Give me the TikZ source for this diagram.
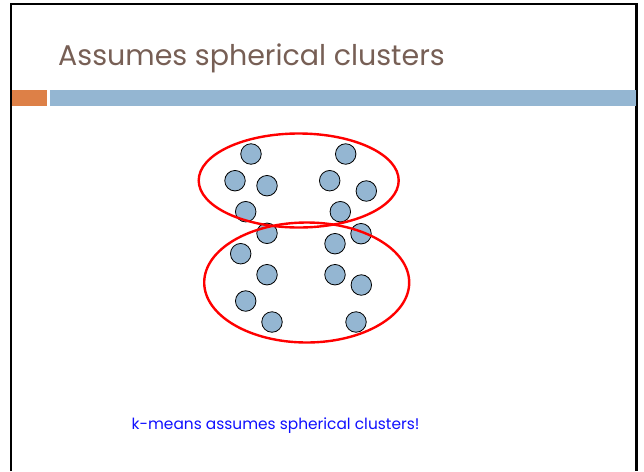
\documentclass[tikz,border=0pt]{standalone}
\usepackage{fontspec}
\setmainfont{Poppins}
\usepackage{tikz}
\usetikzlibrary{positioning}
\usepackage{xcolor}
\definecolor{titlebrown}{HTML}{775F55}
\definecolor{dotblue}{HTML}{94B6D2}
\definecolor{barorange}{HTML}{DD8047}
\definecolor{notblue}{HTML}{1010FF}

\begin{document}
\begin{tikzpicture}[
  x=1pt, y=-1pt,
  dot/.style={circle, draw=black, line width=0.8pt, fill=dotblue, minimum size=20.5pt, inner sep=0pt},
  cluster/.style={draw=red, line width=2.4pt},
  frame/.style={draw=black, line width=2.2pt}
]
\useasboundingbox[fill=white] (0,0) rectangle (644,471);

% slide frame, open at the bottom
\draw[frame] (11,471) -- (11,4) -- (636.5,4) -- (636.5,471);

% title and the bars under it
\node[anchor=base west, inner sep=0pt, font=\fontsize{28.5}{34}\selectfont, text=titlebrown] (title) at (58,65) {Assumes spherical clusters};
\fill[barorange] (12.3,90) rectangle (47,105.5);
\fill[dotblue] (50,90) rectangle (635.5,105.5);

% data points
\node[dot] (p1) at (251,154) {};
\node[dot] (p2) at (345.7,154) {};
\node[dot] (p3) at (235,180.7) {};
\node[dot] (p4) at (267,185.7) {};
\node[dot] (p5) at (329.7,180.7) {};
\node[dot] (p6) at (366.3,191) {};
\node[dot] (p7) at (245.7,211.7) {};
\node[dot] (p8) at (340.3,211.7) {};
\node[dot] (p9) at (267,233.3) {};
\node[dot] (p10) at (361,233.7) {};
\node[dot] (p11) at (335,243.7) {};
\node[dot] (p12) at (240.7,253.7) {};
\node[dot] (p13) at (267,274.7) {};
\node[dot] (p14) at (335,274.7) {};
\node[dot] (p15) at (361.3,285) {};
\node[dot] (p16) at (245.7,301) {};
\node[dot] (p17) at (272,322) {};
\node[dot] (p18) at (356,322) {};

% the two clusters k-means finds
\coordinate (upper) at (298.7,180.5);
\coordinate (lower) at (306.7,282.5);
\draw[cluster] (upper) ellipse [x radius=100, y radius=47];
\draw[cluster] (lower) ellipse [x radius=102.5, y radius=60];

\node[anchor=base west, inner sep=0pt, font=\fontsize{15.4}{18}\selectfont, text=notblue] (note) at (131.5,429.3) {k-means assumes spherical clusters!};
\end{tikzpicture}
\end{document}
